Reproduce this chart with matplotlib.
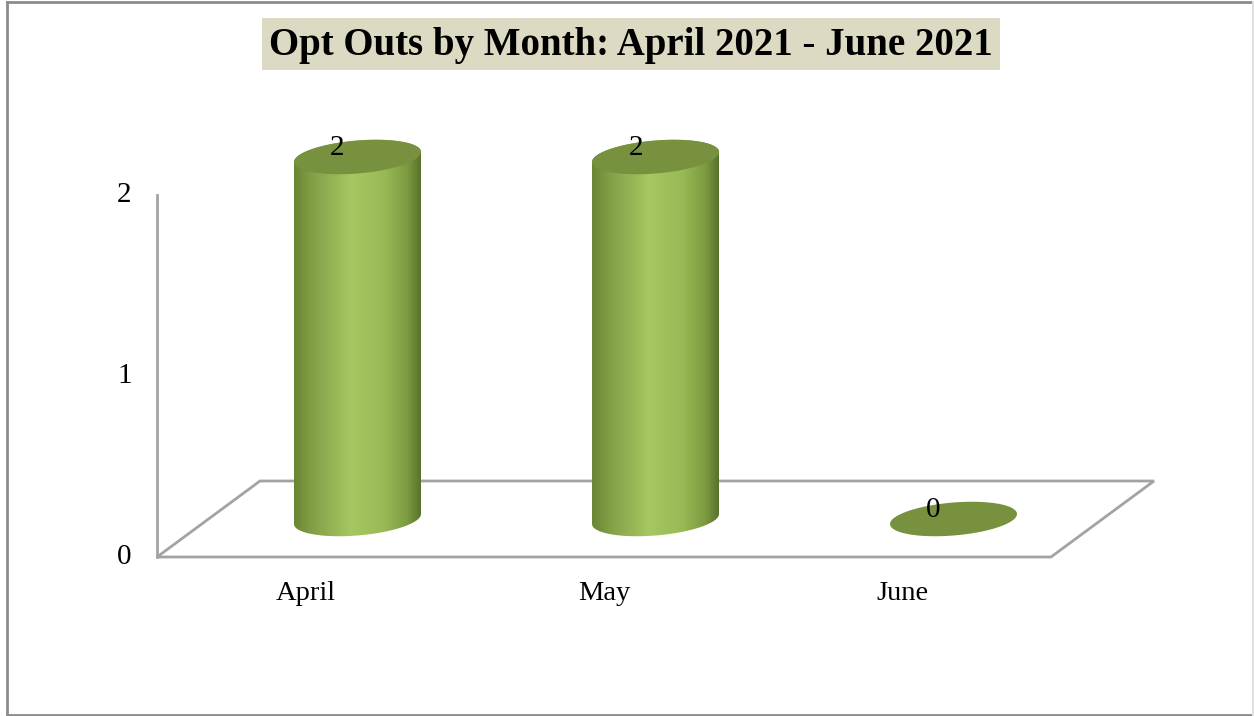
import numpy as np
import matplotlib
matplotlib.use("Agg")
import matplotlib.pyplot as plt
from matplotlib.patches import Polygon, Rectangle
from matplotlib.colors import LinearSegmentedColormap

months = ["April", "May", "June"]
opt_outs = [2, 2, 0]
y_ticks = [0, 1, 2]
title = "Opt Outs by Month: April 2021 - June 2021"

plt.rcParams['font.family'] = ['Liberation Serif', 'DejaVu Serif']

W, H = 1254, 716
fig = plt.figure(figsize=(W / 100, H / 100), dpi=100)
fig.patch.set_facecolor("white")

# axes in category / value units, filling the figure
ax = fig.add_axes([0, 0, 1, 1])
ax.set_xlim((0 - 306) / 298, (W - 306) / 298)
ax.set_ylim((557 - H) / 181, 557 / 181)
ax.axis("off")

n = len(months)
ddx, ddy = 103 / 298, 76 / 181   # depth offset of the floor
grey = "#a3a3a3"

# floor and value axis
x0, x1 = -0.5, n - 0.5
floor = Polygon([(x0, 0), (x1, 0), (x1 + ddx, ddy), (x0 + ddx, ddy)],
                closed=True, fill=False, edgecolor=grey, lw=2)
ax.add_patch(floor)
ax.plot([x0, x0], [0, max(y_ticks)], color=grey, lw=2)

for t in y_ticks:
    ax.text(x0 - 0.085, t, str(t), ha="right", va="center", fontsize=21)

for i, m in enumerate(months):
    ax.text(i, -0.2, m, ha="center", va="center", fontsize=20.5)

# cylinders
a = 63.5 / 298
b = 16.5 / 181
shear = 0.13
cmap = LinearSegmentedColormap.from_list(
    "cyl", [(0, "#6a8534"), (0.12, "#7f9c44"), (0.45, "#a6c862"),
            (0.72, "#98b955"), (0.9, "#7b993f"), (1.0, "#5a712c")])
grad = np.linspace(0, 1, 256).reshape(1, -1)


def ell(cx, cy, th):
    return cx + a * np.cos(th), cy + b * np.sin(th) + shear * a * np.cos(th)


for i, v in enumerate(opt_outs):
    cx = i + ddx / 2
    cy0 = ddy / 2
    cy1 = cy0 + v
    if v > 0:
        th_bot = np.linspace(np.pi, 2 * np.pi, 60)
        th_top = np.linspace(0, np.pi, 60)
        bx, by = ell(cx, cy0, th_bot)
        tx, ty = ell(cx, cy1, th_top)
        pts = np.column_stack([np.r_[bx, tx], np.r_[by, ty]])
        body = Polygon(pts, closed=True, facecolor="none", edgecolor="none")
        ax.add_patch(body)
        im = ax.imshow(grad, cmap=cmap, aspect="auto",
                       extent=[cx - a, cx + a, cy0 - 2 * b, cy1 + 2 * b],
                       zorder=2)
        im.set_clip_path(body)
    th = np.linspace(0, 2 * np.pi, 120)
    ex, ey = ell(cx, cy1, th)
    ax.add_patch(Polygon(np.column_stack([ex, ey]), closed=True,
                         facecolor="#77913f", edgecolor="none", zorder=3))
    ax.text(cx - 20 / 298, cy1 + 9 / 181, str(v), ha="center", va="center",
            fontsize=21, zorder=4)

ax.set_xlim((0 - 306) / 298, (W - 306) / 298)
ax.set_ylim((557 - H) / 181, 557 / 181)

# title box
fig.patches.append(Rectangle((262 / W, 1 - 70 / H), 738 / W, 52 / H,
                             transform=fig.transFigure, facecolor="#dddac4",
                             edgecolor="none"))
fig.text(631 / W, 1 - 46 / H, title, ha="center", va="center",
         fontsize=28, fontweight="bold")

# outer frame
fr = "#8c8c8c"
fig.add_artist(plt.Line2D([7 / W, 7 / W], [1 - 2 / H, 1 - 715 / H], color=fr, lw=2, transform=fig.transFigure))
fig.add_artist(plt.Line2D([7 / W, 1253 / W], [1 - 2 / H, 1 - 2 / H], color=fr, lw=2, transform=fig.transFigure))
fig.add_artist(plt.Line2D([7 / W, 1253 / W], [1 - 715 / H, 1 - 715 / H], color=fr, lw=2, transform=fig.transFigure))
fig.add_artist(plt.Line2D([1253 / W, 1253 / W], [1 - 2 / H, 1 - 715 / H], color="#e0e0e0", lw=1.5, transform=fig.transFigure))

fig.savefig("out.png", dpi=100)
